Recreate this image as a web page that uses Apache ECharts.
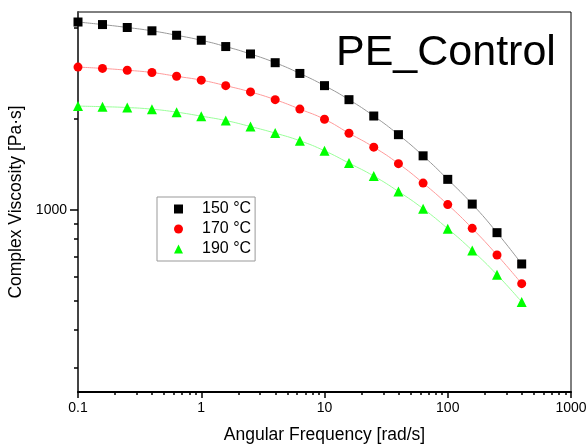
<!DOCTYPE html>
<html>
<head>
<meta charset="utf-8">
<script src="https://cdn.jsdelivr.net/npm/echarts@6/dist/echarts.min.js"></script>
<style>
  html, body { margin: 0; padding: 0; background: #fff; }
  #chart { width: 587px; height: 444px; }
</style>
</head>
<body>
<div id="chart"></div>
<script>
// angular frequency (rad/s), 5 points per decade
var freq = [0.1, 0.158, 0.251, 0.398, 0.631, 1, 1.58, 2.51, 3.98, 6.31, 10, 15.8, 25.1, 39.8, 63.1, 100, 158, 251, 398];
// complex viscosity (Pa·s)
var visc150 = [4170, 4090, 4000, 3900, 3770, 3630, 3460, 3270, 3060, 2820, 2570, 2310, 2040, 1770, 1507, 1260, 1044, 840, 662];
var visc170 = [2960, 2930, 2890, 2840, 2760, 2680, 2570, 2450, 2310, 2150, 1990, 1790, 1610, 1420, 1225, 1040, 868, 709, 570];
var visc190 = [2200, 2190, 2176, 2149, 2101, 2038, 1971, 1883, 1791, 1690, 1566, 1426, 1292, 1149, 1008, 866, 734, 610, 496];
var names = ['150 °C', '170 °C', '190 °C'];

var xMajor = [0.1, 1, 10, 100, 1000];
var xMinor = [0.2, 0.3, 0.4, 0.5, 0.6, 0.7, 0.8, 0.9, 2, 3, 4, 5, 6, 7, 8, 9,
  20, 30, 40, 50, 60, 70, 80, 90, 200, 300, 400, 500, 600, 700, 800, 900];
var yMajor = [1000];
var yMinor = [300, 400, 500, 600, 700, 800, 900, 2000, 3000, 4000];

var font = 'Liberation Sans, Arial, sans-serif';

function pairs(ys) {
  return freq.map(function (f, i) { return [f, ys[i]]; });
}

var chart = echarts.init(document.getElementById('chart'));

var xBase = { type: 'log', gridIndex: 0, position: 'bottom', min: 0.1, max: 1000, splitLine: { show: false } };
var yBase = { type: 'log', gridIndex: 0, position: 'left', min: 250, max: 4500, splitLine: { show: false } };

chart.setOption({
  animation: false,
  title: {
    text: 'PE_Control',
    left: 331,
    top: 27,
    textStyle: { fontFamily: font, fontSize: 43, fontWeight: 'normal', color: '#000' }
  },
  grid: {
    left: 78, top: 12, right: 16, bottom: 52,
    outerBoundsMode: 'none',
    containLabel: false,
    show: true, borderColor: '#000', borderWidth: 1
  },
  legend: {
    orient: 'vertical',
    left: 157,
    top: 197,
    padding: [4, 4, 4, 17],
    borderColor: '#999',
    borderWidth: 1,
    itemWidth: 9,
    itemHeight: 9,
    itemGap: 4,
    textStyle: { fontFamily: font, fontSize: 16, color: '#000', lineHeight: 16, padding: [0, 0, 0, 14] },
    data: [
      { name: names[0], icon: 'rect' },
      { name: names[1], icon: 'circle' },
      { name: names[2], icon: 'triangle' }
    ]
  },
  xAxis: [
    Object.assign({}, xBase, {
      name: 'Angular Frequency [rad/s]',
      nameLocation: 'middle',
      nameGap: 34,
      nameTextStyle: { fontFamily: font, fontSize: 17.5, color: '#000' },
      axisLine: { lineStyle: { color: '#000', width: 2 } },
      axisTick: { inside: false, length: 6, customValues: xMajor, lineStyle: { color: '#000', width: 1.5 } },
      axisLabel: { customValues: xMajor, margin: 9, fontFamily: font, fontSize: 14, color: '#000',
        hideOverlap: false,
        formatter: function (v) { return String(v); } }
    }),
    Object.assign({}, xBase, {
      axisLine: { show: false },
      axisTick: { inside: false, length: 3, customValues: xMinor, lineStyle: { color: '#000', width: 1.5 } },
      axisLabel: { show: false }
    })
  ],
  yAxis: [
    Object.assign({}, yBase, {
      name: 'Complex Viscosity [Pa·s]',
      nameLocation: 'middle',
      nameGap: 47,
      nameTextStyle: { fontFamily: font, fontSize: 17.5, color: '#000' },
      axisLine: { lineStyle: { color: '#444', width: 2 } },
      axisTick: { inside: false, length: 8, customValues: yMajor, lineStyle: { color: '#000', width: 1.5 } },
      axisLabel: { customValues: yMajor, margin: 11, fontFamily: font, fontSize: 14, color: '#000',
        formatter: function (v) { return String(v); } }
    }),
    Object.assign({}, yBase, {
      axisLine: { show: false },
      axisTick: { inside: false, length: 4, customValues: yMinor, lineStyle: { color: '#000', width: 1.5 } },
      axisLabel: { show: false }
    })
  ],
  series: [
    {
      name: names[0], type: 'line', smooth: true, data: pairs(visc150),
      symbol: 'rect', symbolSize: 9, z: 3,
      itemStyle: { color: '#000' }, lineStyle: { color: '#999', width: 1 }
    },
    {
      name: names[1], type: 'line', smooth: true, data: pairs(visc170),
      symbol: 'circle', symbolSize: 9, z: 3,
      itemStyle: { color: '#ff0000' }, lineStyle: { color: '#ff9a9a', width: 1 }
    },
    {
      name: names[2], type: 'line', smooth: true, data: pairs(visc190),
      symbol: 'triangle', symbolSize: 10, z: 3,
      itemStyle: { color: '#00ff00' }, lineStyle: { color: '#99ff99', width: 1 }
    }
  ]
});

window.addEventListener('resize', function () {
  chart.resize();
});
</script>
</body>
</html>
